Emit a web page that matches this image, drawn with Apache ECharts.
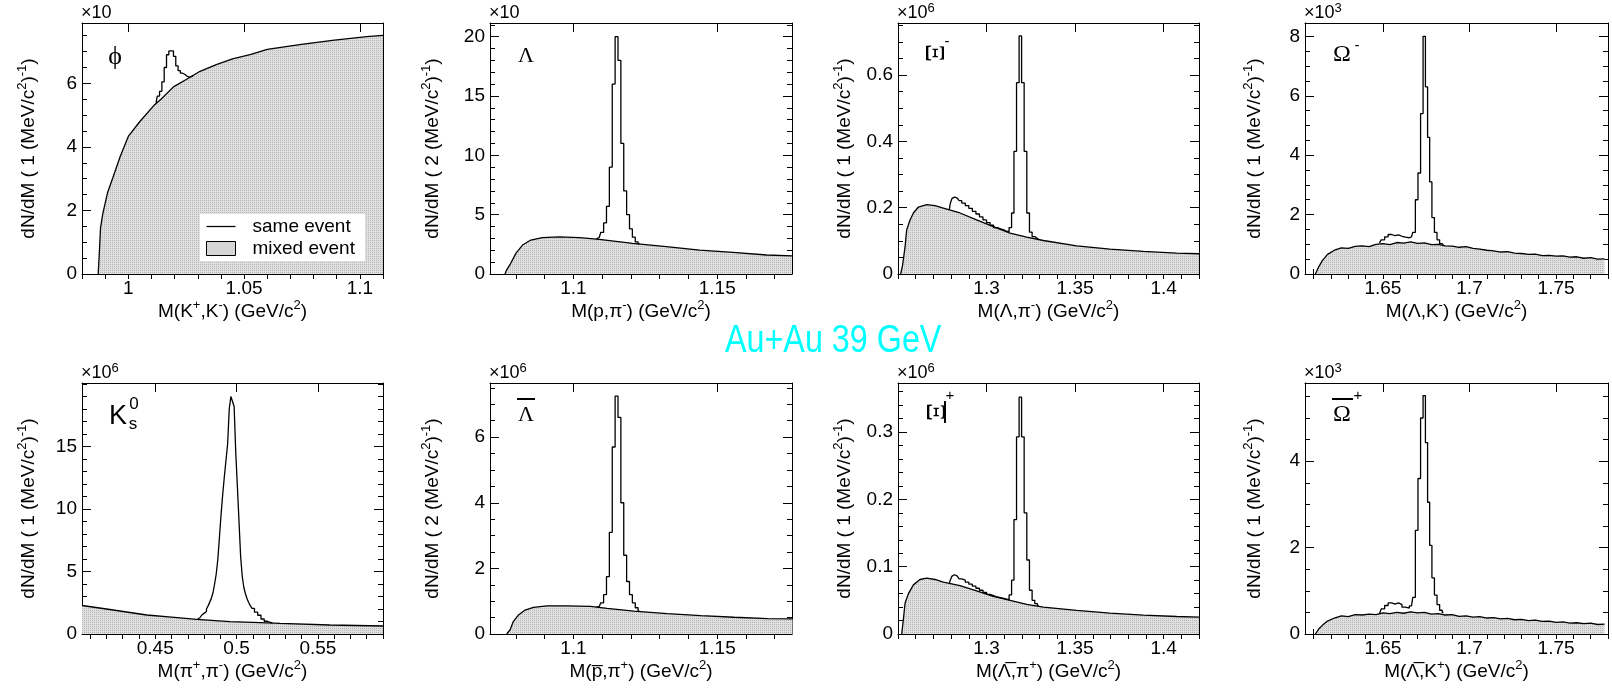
<!DOCTYPE html>
<html><head><meta charset="utf-8">
<script src="https://cdn.jsdelivr.net/npm/echarts@6/dist/echarts.min.js"></script>
<style>html,body{margin:0;padding:0;background:#fff}#c{width:1612px;height:691px}</style>
</head><body><div id="c"></div>
<script>
// ---------------- data ----------------
// phi -> K+K-
const phiMixM = [0.987, 0.9875, 0.988, 0.989, 0.991, 0.9935, 0.9965, 1.000, 1.005, 1.011, 1.014, 1.0195, 1.025, 1.031, 1.038, 1.045, 1.053, 1.060, 1.074, 1.089, 1.103, 1.110];
const phiMixN = [0, 0.7, 1.45, 1.9, 2.55, 3.07, 3.7, 4.33, 4.8, 5.3, 5.49, 5.89, 6.12, 6.38, 6.59, 6.77, 6.91, 7.07, 7.22, 7.36, 7.47, 7.51];
const phiSameM = [1.012, 1.013, 1.014, 1.015, 1.016, 1.017, 1.018, 1.019, 1.020, 1.021, 1.022, 1.023, 1.024, 1.025, 1.026, 1.027, 1.028];
const phiSameN = [5.38, 5.6, 5.75, 6.05, 6.5, 6.9, 7.02, 7.02, 6.85, 6.55, 6.4, 6.32, 6.28, 6.22, 6.2, 6.22, 6.25];
// Lambda -> p pi-
const lamMixM = [1.0762, 1.0767, 1.0782, 1.0800, 1.0823, 1.0852, 1.0892, 1.0951, 1.1021, 1.109, 1.1206, 1.1323, 1.1439, 1.1555, 1.1672, 1.176];
const lamMixN = [0, 0.3, 0.9, 1.74, 2.44, 2.86, 3.06, 3.12, 3.06, 2.92, 2.58, 2.30, 2.02, 1.83, 1.60, 1.52];
const lamSameM = [1.108, 1.109, 1.110, 1.111, 1.112, 1.113, 1.114, 1.115, 1.116, 1.117, 1.118, 1.119, 1.120, 1.121, 1.122, 1.123];
const lamSameN = [2.94, 3.1, 3.5, 4.3, 5.7, 9.0, 16.0, 20.0, 18.0, 11.0, 7.0, 5.0, 3.8, 3.1, 2.7, 2.53];
// Xi- -> Lambda pi-
const xiMixM = [1.2515, 1.2526, 1.254, 1.2549, 1.2568, 1.2587, 1.2615, 1.2662, 1.2709, 1.2756, 1.285, 1.2944, 1.3038, 1.3133, 1.3227, 1.3321, 1.3509, 1.3697, 1.3885, 1.4074, 1.42];
const xiMixN = [0, 0.027, 0.083, 0.133, 0.163, 0.184, 0.202, 0.209, 0.206, 0.199, 0.184, 0.163, 0.143, 0.123, 0.111, 0.101, 0.085, 0.075, 0.068, 0.063, 0.061];
const xiSameM = [1.279, 1.280, 1.281, 1.282, 1.283, 1.284, 1.285, 1.287, 1.289, 1.291, 1.293, 1.295, 1.297, 1.299, 1.301, 1.303, 1.305, 1.307, 1.309, 1.3105, 1.312, 1.3135, 1.3148, 1.3162, 1.3177, 1.3191, 1.3205, 1.322, 1.3235, 1.325, 1.3265, 1.328, 1.3295];
const xiSameN = [0.194, 0.212, 0.228, 0.232, 0.229, 0.225, 0.221, 0.214, 0.206, 0.198, 0.189, 0.181, 0.172, 0.163, 0.155, 0.147, 0.140, 0.136, 0.133, 0.129, 0.128, 0.14, 0.184, 0.37, 0.577, 0.718, 0.577, 0.37, 0.184, 0.126, 0.113, 0.107, 0.104];
// Omega- -> Lambda K-
const omMixM = [1.611, 1.613, 1.615, 1.618, 1.622, 1.626, 1.630, 1.634, 1.638, 1.642, 1.646, 1.650, 1.654, 1.658, 1.662, 1.666, 1.670, 1.674, 1.678, 1.682, 1.686, 1.690, 1.694, 1.698, 1.702, 1.706, 1.710, 1.714, 1.718, 1.722, 1.726, 1.730, 1.734, 1.738, 1.742, 1.746, 1.750, 1.754, 1.758, 1.762, 1.766, 1.770, 1.774, 1.778];
const omMixN = [0, 0.25, 0.45, 0.66, 0.80, 0.88, 0.86, 0.93, 0.95, 0.92, 1.0, 1.02, 0.99, 1.06, 1.04, 1.08, 1.03, 1.05, 0.99, 1.0, 0.95, 0.94, 0.9, 0.92, 0.86, 0.84, 0.8, 0.78, 0.74, 0.75, 0.7, 0.69, 0.66, 0.67, 0.62, 0.63, 0.6, 0.61, 0.57, 0.58, 0.53, 0.55, 0.5, 0.51];
const omSameM = [1.648, 1.650, 1.652, 1.654, 1.656, 1.658, 1.660, 1.662, 1.664, 1.6665, 1.668, 1.6695, 1.671, 1.6725, 1.6739, 1.6752, 1.6764, 1.6776, 1.679, 1.6805, 1.682, 1.6835, 1.685];
const omSameN = [1.05, 1.15, 1.25, 1.33, 1.29, 1.32, 1.27, 1.24, 1.22, 1.25, 1.4, 2.5, 3.4, 5.4, 8.0, 6.3, 4.6, 3.1, 1.9, 1.4, 1.15, 1.02, 0.98];
// K0s -> pi+ pi-
const ksMixM = [0.405, 0.42, 0.4448, 0.46, 0.4755, 0.496, 0.51, 0.5267, 0.5574, 0.59];
const ksMixN = [2.28, 2.0, 1.52, 1.35, 1.17, 0.99, 0.93, 0.85, 0.72, 0.64];
const ksSameM = [0.476, 0.477, 0.478, 0.479, 0.480, 0.481, 0.482, 0.483, 0.484, 0.485, 0.486, 0.487, 0.488, 0.489, 0.490, 0.491, 0.492, 0.493, 0.494, 0.495, 0.496, 0.497, 0.498, 0.499, 0.500, 0.501, 0.502, 0.503, 0.504, 0.505, 0.506, 0.507, 0.508, 0.509, 0.510, 0.512, 0.514, 0.516, 0.518, 0.520, 0.522];
const ksSameN = [1.2, 1.3, 1.4, 1.5, 1.65, 1.8, 2.0, 2.25, 2.55, 2.85, 3.3, 4.0, 4.8, 6.0, 7.8, 9.6, 11.2, 12.6, 13.9, 15.2, 18.0, 19.0, 18.6, 18.2, 14.5, 11.8, 9.0, 6.2, 4.6, 3.7, 3.2, 2.8, 2.5, 2.25, 2.05, 1.75, 1.5, 1.2, 1.02, 0.92, 0.89];
// anti-Lambda -> pbar pi+
const lbMixM = [1.0768, 1.078, 1.0791, 1.0809, 1.0832, 1.0861, 1.0908, 1.0977, 1.1059, 1.1117, 1.121, 1.1326, 1.1443, 1.1559, 1.1675, 1.1762];
const lbMixN = [0, 0.13, 0.38, 0.58, 0.73, 0.81, 0.86, 0.86, 0.84, 0.78, 0.70, 0.62, 0.56, 0.51, 0.47, 0.46];
const lbSameM = [1.108, 1.109, 1.110, 1.111, 1.112, 1.113, 1.114, 1.115, 1.116, 1.117, 1.118, 1.119, 1.120, 1.121, 1.122, 1.123];
const lbSameN = [0.82, 0.84, 0.95, 1.2, 1.75, 3.1, 5.7, 7.25, 6.6, 4.0, 2.4, 1.6, 1.2, 0.95, 0.8, 0.7];
// anti-Xi+ -> anti-Lambda pi+
const xibMixM = [1.2521, 1.253, 1.254, 1.2559, 1.2587, 1.2624, 1.2662, 1.2709, 1.2756, 1.285, 1.2944, 1.3038, 1.3133, 1.3227, 1.3321, 1.3509, 1.3697, 1.3885, 1.4074, 1.42];
const xibMixN = [0, 0.021, 0.046, 0.060, 0.073, 0.081, 0.083, 0.081, 0.077, 0.072, 0.064, 0.056, 0.050, 0.044, 0.040, 0.035, 0.031, 0.028, 0.026, 0.025];
const xibSameM = [1.279, 1.280, 1.281, 1.282, 1.283, 1.284, 1.285, 1.287, 1.289, 1.291, 1.293, 1.295, 1.297, 1.299, 1.301, 1.303, 1.305, 1.307, 1.309, 1.3105, 1.312, 1.3135, 1.3148, 1.3162, 1.3177, 1.3191, 1.3205, 1.322, 1.3235, 1.325, 1.3265, 1.328, 1.3295];
const xibSameN = [0.075, 0.08, 0.086, 0.088, 0.086, 0.084, 0.082, 0.080, 0.077, 0.074, 0.071, 0.068, 0.065, 0.062, 0.059, 0.057, 0.055, 0.054, 0.053, 0.052, 0.051, 0.058, 0.08, 0.17, 0.293, 0.352, 0.293, 0.18, 0.11, 0.065, 0.05, 0.045, 0.042];
// anti-Omega+ -> anti-Lambda K+
const obMixM = [1.611, 1.613, 1.615, 1.618, 1.622, 1.626, 1.630, 1.634, 1.638, 1.642, 1.646, 1.650, 1.654, 1.658, 1.662, 1.666, 1.670, 1.674, 1.678, 1.682, 1.686, 1.690, 1.694, 1.698, 1.702, 1.706, 1.710, 1.714, 1.718, 1.722, 1.726, 1.730, 1.734, 1.738, 1.742, 1.746, 1.750, 1.754, 1.758, 1.762, 1.766, 1.770, 1.774, 1.778];
const obMixN = [0, 0.12, 0.2, 0.3, 0.37, 0.42, 0.40, 0.45, 0.44, 0.46, 0.45, 0.49, 0.47, 0.5, 0.48, 0.51, 0.49, 0.5, 0.46, 0.47, 0.44, 0.45, 0.41, 0.42, 0.39, 0.40, 0.37, 0.38, 0.35, 0.36, 0.33, 0.34, 0.31, 0.32, 0.29, 0.30, 0.27, 0.28, 0.25, 0.26, 0.24, 0.25, 0.22, 0.23];
const obSameM = [1.648, 1.650, 1.652, 1.654, 1.656, 1.658, 1.660, 1.662, 1.664, 1.6665, 1.668, 1.6695, 1.671, 1.6725, 1.6739, 1.6752, 1.6764, 1.6776, 1.679, 1.6805, 1.682, 1.6835, 1.685];
const obSameN = [0.47, 0.58, 0.66, 0.72, 0.69, 0.72, 0.68, 0.62, 0.6, 0.65, 0.85, 2.4, 3.6, 5.0, 5.52, 4.43, 3.05, 2.05, 1.3, 0.9, 0.68, 0.55, 0.5];

// tick labels
const phiXTicks = [1, 1.05, 1.1],      phiYTicks = [0, 2, 4, 6];
const lamXTicks = [1.1, 1.15],         lamYTicks = [0, 5, 10, 15, 20];
const xiXTicks  = [1.3, 1.35, 1.4],    xiYTicks  = [0, 0.2, 0.4, 0.6];
const omXTicks  = [1.65, 1.7, 1.75],   omYTicks  = [0, 2, 4, 6, 8];
const ksXTicks  = [0.45, 0.5, 0.55],   ksYTicks  = [0, 5, 10, 15];
const lbXTicks  = [1.1, 1.15],         lbYTicks  = [0, 2, 4, 6];
const xibXTicks = [1.3, 1.35, 1.4],    xibYTicks = [0, 0.1, 0.2, 0.3];
const obXTicks  = [1.65, 1.7, 1.75],   obYTicks  = [0, 2, 4];
const scaleExp  = ['', '', '6', '3', '6', '6', '6', '3'];

// ---------------- configuration ----------------
const FONT = '"Liberation Sans", Arial, sans-serif';
const SERIF = '"Liberation Serif", "Times New Roman", serif';
const panels = [
  {mx: phiMixM, my: phiMixN, sx: phiSameM, sy: phiSameN, xr: [0.98, 1.11], yr: [0, 7.9], xt: phiXTicks, yt: phiYTicks, xm: 0.01, ym: 0.5,
   xname: 'M(K{p|+},K{p|-}) (GeV/c{p|2})', yname: 'dN/dM ( 1 (MeV/c{p|2}){p|-1})'},
  {mx: lamMixM, my: lamMixN, sx: lamSameM, sy: lamSameN, xr: [1.071, 1.176], yr: [0, 21.15], xt: lamXTicks, yt: lamYTicks, xm: 0.01, ym: 1,
   xname: 'M(p,π{p|-}) (GeV/c{p|2})', yname: 'dN/dM ( 2 (MeV/c{p|2}){p|-1})'},
  {mx: xiMixM, my: xiMixN, sx: xiSameM, sy: xiSameN, xr: [1.25, 1.42], yr: [0, 0.757], xt: xiXTicks, yt: xiYTicks, xm: 0.01, ym: 0.05,
   xname: 'M(Λ,π{p|-}) (GeV/c{p|2})', yname: 'dN/dM ( 1 (MeV/c{p|2}){p|-1})'},
  {mx: omMixM, my: omMixN, sx: omSameM, sy: omSameN, xr: [1.605, 1.78], yr: [0, 8.45], xt: omXTicks, yt: omYTicks, xm: 0.01, ym: 0.5,
   xname: 'M(Λ,K{p|-}) (GeV/c{p|2})', yname: 'dN/dM ( 1 (MeV/c{p|2}){p|-1})'},
  {mx: ksMixM, my: ksMixN, sx: ksSameM, sy: ksSameN, xr: [0.405, 0.59], yr: [0, 20.08], xt: ksXTicks, yt: ksYTicks, xm: 0.01, ym: 1,
   xname: 'M(π{p|+},π{p|-}) (GeV/c{p|2})', yname: 'dN/dM ( 1 (MeV/c{p|2}){p|-1})'},
  {mx: lbMixM, my: lbMixN, sx: lbSameM, sy: lbSameN, xr: [1.071, 1.176], yr: [0, 7.65], xt: lbXTicks, yt: lbYTicks, xm: 0.01, ym: 0.5,
   xname: 'M(p\u0305,π{p|+}) (GeV/c{p|2})', yname: 'dN/dM ( 2 (MeV/c{p|2}){p|-1})'},
  {mx: xibMixM, my: xibMixN, sx: xibSameM, sy: xibSameN, xr: [1.25, 1.42], yr: [0, 0.373], xt: xibXTicks, yt: xibYTicks, xm: 0.01, ym: 0.02,
   xname: 'M(Λ\u0305,π{p|+}) (GeV/c{p|2})', yname: 'dN/dM ( 1 (MeV/c{p|2}){p|-1})'},
  {mx: obMixM, my: obMixN, sx: obSameM, sy: obSameN, xr: [1.605, 1.78], yr: [0, 5.81], xt: obXTicks, yt: obYTicks, xm: 0.01, ym: 0.5,
   xname: 'M(Λ\u0305,K{p|+}) (GeV/c{p|2})', yname: 'dN/dM ( 1 (MeV/c{p|2}){p|-1})'}
];
// layout (pixels)
const colLeft = [82, 490, 898, 1305], colWidth = [301, 302, 301, 303], rowTop = [23, 383], H = 251;
const nameGapY = [40, 44, 40, 37];

function pairs(xs, ys) { return xs.map((x, i) => [x, ys[i]]); }
function minorTicks(lo, hi, step) {
  const out = [];
  for (let k = Math.ceil(lo / step - 1e-6); k * step <= hi + 1e-9; k++) out.push(+(k * step).toFixed(6));
  return out;
}
function fillPattern() {
  const c = document.createElement('canvas'); c.width = 2; c.height = 2;
  const g = c.getContext('2d');
  g.fillStyle = '#e0e0e0'; g.fillRect(0, 0, 2, 2);
  g.fillStyle = '#b4b4b4'; g.fillRect(0, 0, 1, 1);
  return c;
}
const pattern = {image: fillPattern(), repeat: 'repeat'};
const richSup = {p: {fontSize: 13, fontFamily: FONT, color: '#000', verticalAlign: 'top', lineHeight: 13}};
const nameStyle = {fontSize: 19, fontFamily: FONT, color: '#000', lineHeight: 26, rich: richSup};
const tickLine = {color: '#000', width: 1};
const frameLine = {show: true, onZero: false, lineStyle: {color: '#000', width: 1}};

const grids = [], xAxes = [], yAxes = [], series = [];
panels.forEach((p, i) => {
  const c = i % 4, r = Math.floor(i / 4);
  grids.push({left: colLeft[c], top: rowTop[r], width: colWidth[c], height: H, show: false});
  const xMinor = minorTicks(p.xr[0], p.xr[1], p.xm);
  const yMinor = minorTicks(p.yr[0], p.yr[1], p.ym);
  const base = {gridIndex: i, type: 'value', splitLine: {show: false}};
  const xb = Object.assign({}, base, {min: p.xr[0], max: p.xr[1]});
  const yb = Object.assign({}, base, {min: p.yr[0], max: p.yr[1]});
  xAxes.push(
    Object.assign({}, xb, {position: 'bottom', axisLine: frameLine,
      axisTick: {show: true, inside: true, length: 9, customValues: p.xt, lineStyle: tickLine},
      axisLabel: {show: true, customValues: p.xt, margin: 5, color: '#000', fontSize: 19, fontFamily: FONT},
      name: p.xname, nameLocation: 'middle', nameGap: 22, nameTextStyle: nameStyle}),
    Object.assign({}, xb, {position: 'bottom', axisLine: {show: false},
      axisTick: {show: true, inside: true, length: 5, customValues: xMinor, lineStyle: tickLine}, axisLabel: {show: false}}),
    Object.assign({}, xb, {position: 'top', axisLine: frameLine,
      axisTick: {show: true, inside: true, length: 9, customValues: p.xt, lineStyle: tickLine}, axisLabel: {show: false}}),
    Object.assign({}, xb, {position: 'top', axisLine: {show: false},
      axisTick: {show: true, inside: true, length: 5, customValues: xMinor, lineStyle: tickLine}, axisLabel: {show: false}})
  );
  yAxes.push(
    Object.assign({}, yb, {position: 'left', axisLine: frameLine,
      axisTick: {show: true, inside: true, length: 9, customValues: p.yt, lineStyle: tickLine},
      axisLabel: {show: true, customValues: p.yt, margin: 5, color: '#000', fontSize: 19, fontFamily: FONT},
      name: p.yname, nameLocation: 'middle', nameGap: nameGapY[c], nameRotate: 90, nameTextStyle: nameStyle}),
    Object.assign({}, yb, {position: 'left', axisLine: {show: false},
      axisTick: {show: true, inside: true, length: 5, customValues: yMinor, lineStyle: tickLine}, axisLabel: {show: false}}),
    Object.assign({}, yb, {position: 'right', axisLine: frameLine,
      axisTick: {show: true, inside: true, length: 9, customValues: p.yt, lineStyle: tickLine}, axisLabel: {show: false}}),
    Object.assign({}, yb, {position: 'right', axisLine: {show: false},
      axisTick: {show: true, inside: true, length: 5, customValues: yMinor, lineStyle: tickLine}, axisLabel: {show: false}})
  );
  series.push({
    name: 'mixed event', type: 'line', xAxisIndex: i * 4, yAxisIndex: i * 4, data: pairs(p.mx, p.my),
    symbol: 'none', showSymbol: false, z: 2, lineStyle: {color: '#000', width: 1.3}, itemStyle: {color: '#000'},
    areaStyle: {color: pattern, opacity: 1}
  }, {
    name: 'same event', type: 'line', step: 'middle', xAxisIndex: i * 4, yAxisIndex: i * 4, data: pairs(p.sx, p.sy),
    symbol: 'none', showSymbol: false, z: 3, lineStyle: {color: '#000', width: 1.3}, itemStyle: {color: '#000'}
  });
});

// decorations: title, exponents, particle labels
const graphic = [];
graphic.push({type: 'text', x: 725, y: 341.5, scaleX: 0.85, z: 10,
  style: {text: 'Au+Au 39 GeV', fill: '#00ffff', fontSize: 38, fontFamily: FONT, textAlign: 'left', textVerticalAlign: 'middle', verticalAlign: 'middle'}});
panels.forEach((p, i) => {
  const c = i % 4, r = Math.floor(i / 4);
  const e = scaleExp[i];
  graphic.push({type: 'text', x: colLeft[c] - 1, y: rowTop[r] + 1, z: 10,
    style: {text: e ? '×10{s|' + e + '}' : '×10', fill: '#000', fontSize: 18, fontFamily: FONT, lineHeight: 22,
      textVerticalAlign: 'bottom', verticalAlign: 'bottom',
      rich: {s: {fontSize: 13, fontFamily: FONT, fill: '#000', color: '#000', verticalAlign: 'top', lineHeight: 12}}}});
});
function lab(text, x, y, size, family, extra) {
  return Object.assign({type: 'text', x: x, y: y, z: 10,
    style: {text: text, fill: '#000', fontSize: size, fontFamily: family, textAlign: 'center', textVerticalAlign: 'middle', verticalAlign: 'middle', align: 'center'}}, extra || {});
}
graphic.push(
  lab('ϕ', 115, 57, 26, SERIF),
  lab('Λ', 526, 56, 22, SERIF),
  lab('Ξ', 933, 53, 28, SERIF, {rotation: -Math.PI / 2}),
  lab('-', 947, 42, 15, FONT),
  lab('Ω', 1342, 55, 24, SERIF),
  lab('-', 1357, 46, 15, FONT),
  lab('K', 118, 417, 27, FONT),
  lab('0', 134, 404, 17, FONT),
  lab('s', 133, 424, 17, FONT),
  lab('Λ', 526, 415, 22, SERIF),
  {type: 'line', z: 10, shape: {x1: 517, y1: 399, x2: 535, y2: 399}, style: {stroke: '#000', lineWidth: 2}},
  lab('Ξ', 934, 412, 28, SERIF, {rotation: -Math.PI / 2}),
  {type: 'line', z: 10, shape: {x1: 945, y1: 401, x2: 945, y2: 423}, style: {stroke: '#000', lineWidth: 2}},
  lab('+', 950, 396, 15, FONT),
  lab('Ω', 1342, 415, 24, SERIF),
  {type: 'line', z: 10, shape: {x1: 1332, y1: 399, x2: 1353, y2: 399}, style: {stroke: '#000', lineWidth: 2}},
  lab('+', 1358, 396, 15, FONT)
);

const chart = echarts.init(document.getElementById('c'), null, {renderer: 'canvas'});
chart.setOption({
  animation: false,
  backgroundColor: '#fff',
  grid: grids,
  xAxis: xAxes,
  yAxis: yAxes,
  series: series,
  graphic: graphic,
  legend: {
    left: 200, top: 214, orient: 'vertical', itemWidth: 29, itemHeight: 14, itemGap: 3,
    backgroundColor: '#fff', padding: [3, 10, 3, 6], selectedMode: false,
    textStyle: {fontSize: 19, fontFamily: FONT, color: '#000', padding: [0, 0, 0, 12]},
    data: [
      {name: 'same event', icon: 'path://M0,0L30,0L30,1.3L0,1.3Z', itemStyle: {color: '#000', borderWidth: 0}},
      {name: 'mixed event', icon: 'rect', itemStyle: {color: '#d6d6d6', borderColor: '#000', borderWidth: 1}}
    ]
  }
});
</script>
</body></html>
